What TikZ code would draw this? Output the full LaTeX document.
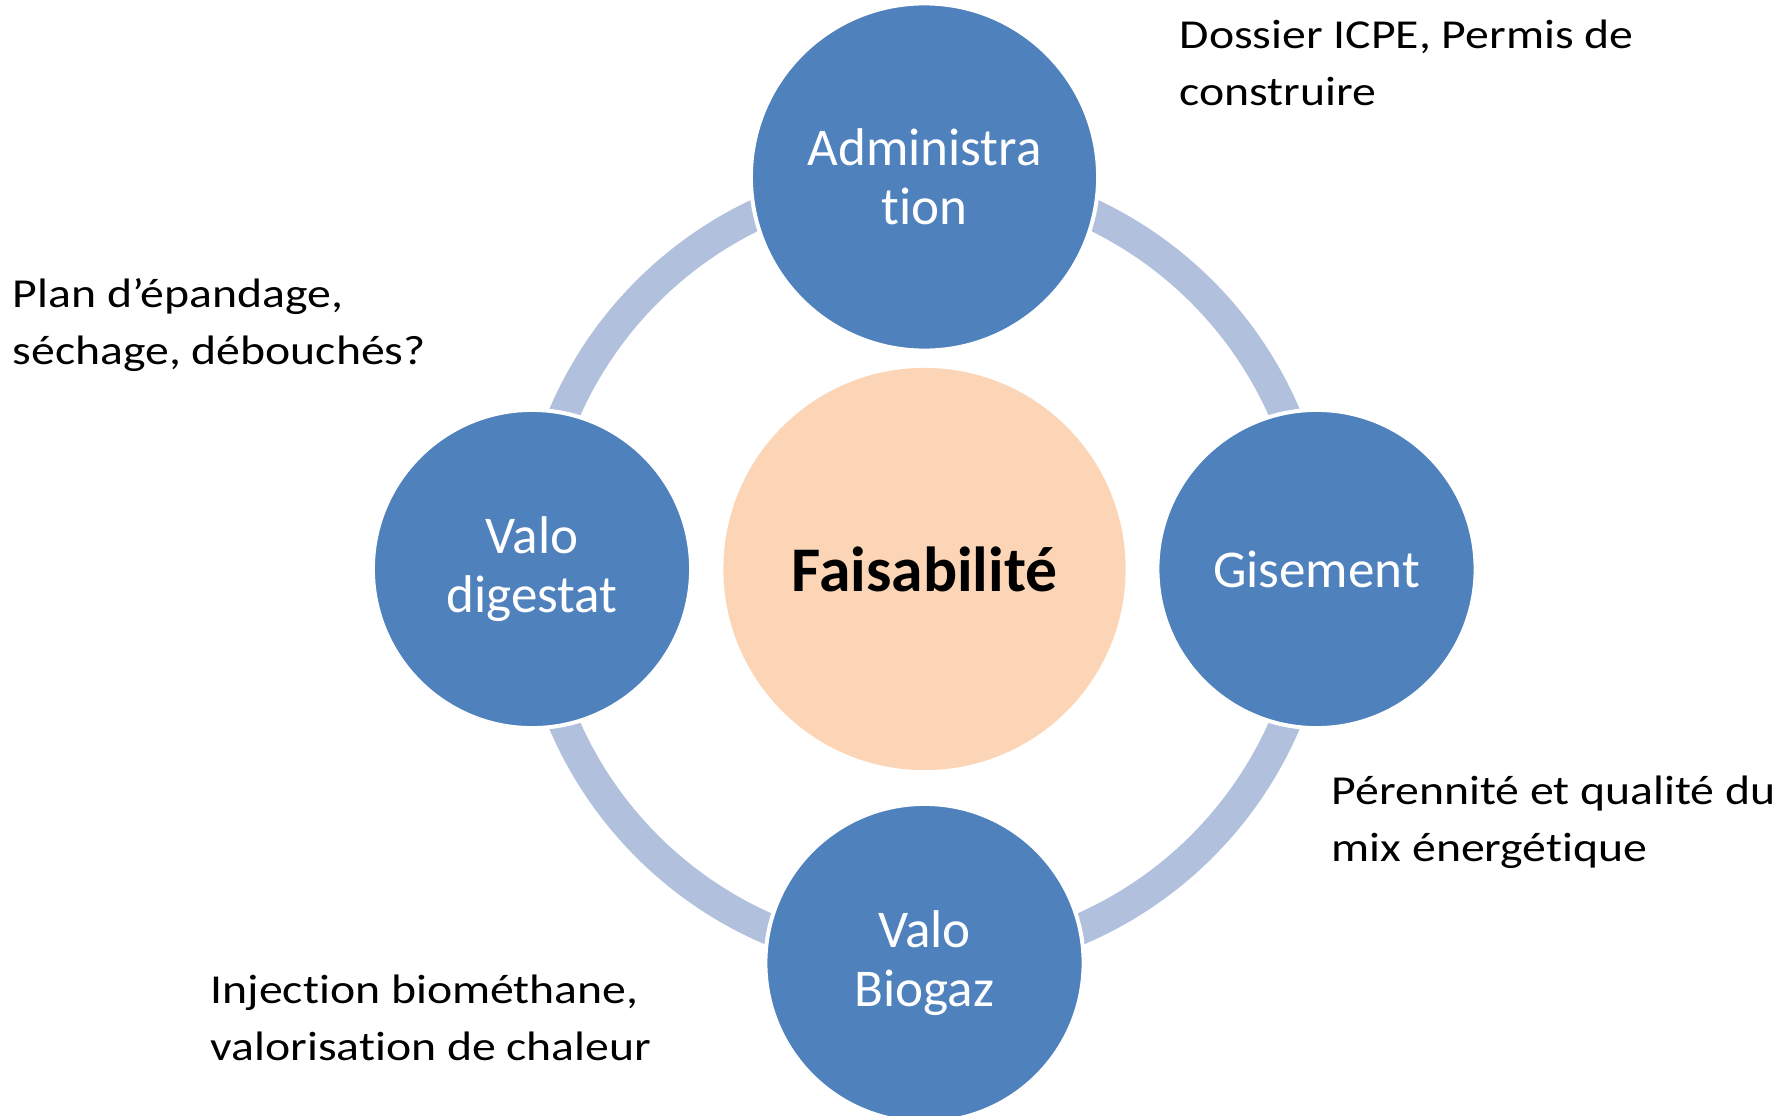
\documentclass[tikz,border=0pt]{standalone}
\usepackage{fontspec}
\setmainfont{Carlito}[Ligatures={NoCommon}]
\newfontfamily\remarkfont{Carlito}[Ligatures={NoCommon}, FakeStretch=1.16]

\definecolor{satblue}{HTML}{4F81BD}
\definecolor{ringblue}{HTML}{B1C1DD}
\definecolor{peach}{HTML}{FBD5B5}

\begin{document}
\begin{tikzpicture}[
		x={(0.01cm,0.0cm)},
		y={(0.0cm,-0.01cm)},
		satellite/.style={circle, fill=satblue, draw=white, line width=0.04cm, inner sep=0pt,
			minimum size=3.18cm, text=white, align=center, font=\fontsize{15.1}{16.8}\selectfont},
		hub/.style={circle, fill=peach, inner sep=0pt, minimum size=4.02cm,
			font=\fontsize{18.1}{20}\selectfont\bfseries},
		remark/.style={anchor=base west, inner sep=0pt, align=left,
			font=\remarkfont\fontsize{11.7}{16.2}\selectfont},
		ringline/.style={ringblue, line width=0.31cm}
	]

		\useasboundingbox (0,0) rectangle (1791,1115);

		% centre
		\node[hub] (faisa) at (924.5,569) {Faisabilit\'e};

		% ring
		\draw[ringline] (faisa.center) circle[radius=3.92cm];

		% satellites
		\node[satellite, minimum size=3.47cm] (admin) at (924.5,177) {Administra\\tion};
		\node[satellite] (gisement) at (1316.5,569) {Gisement};
		\node[satellite] (biogaz) at (924.5,963) {Valo\\Biogaz};
		\node[satellite] (digestat) at (532,569) {Valo\\digestat};

		% remarks (anchored on the last baseline)
		\node[remark] (dossier) at (1179,105) {Dossier ICPE, Permis de\\construire};
		\node[remark] (plan) at (12,364) {Plan d’\'epandage,\\s\'echage, d\'ebouch\'es?};
		\node[remark] (perenne) at (1331,861) {P\'erennit\'e et qualit\'e du\\mix \'energ\'etique};
		\node[remark] (injection) at (210,1060) {Injection biom\'ethane,\\valorisation de chaleur};

	\end{tikzpicture}
\end{document}
